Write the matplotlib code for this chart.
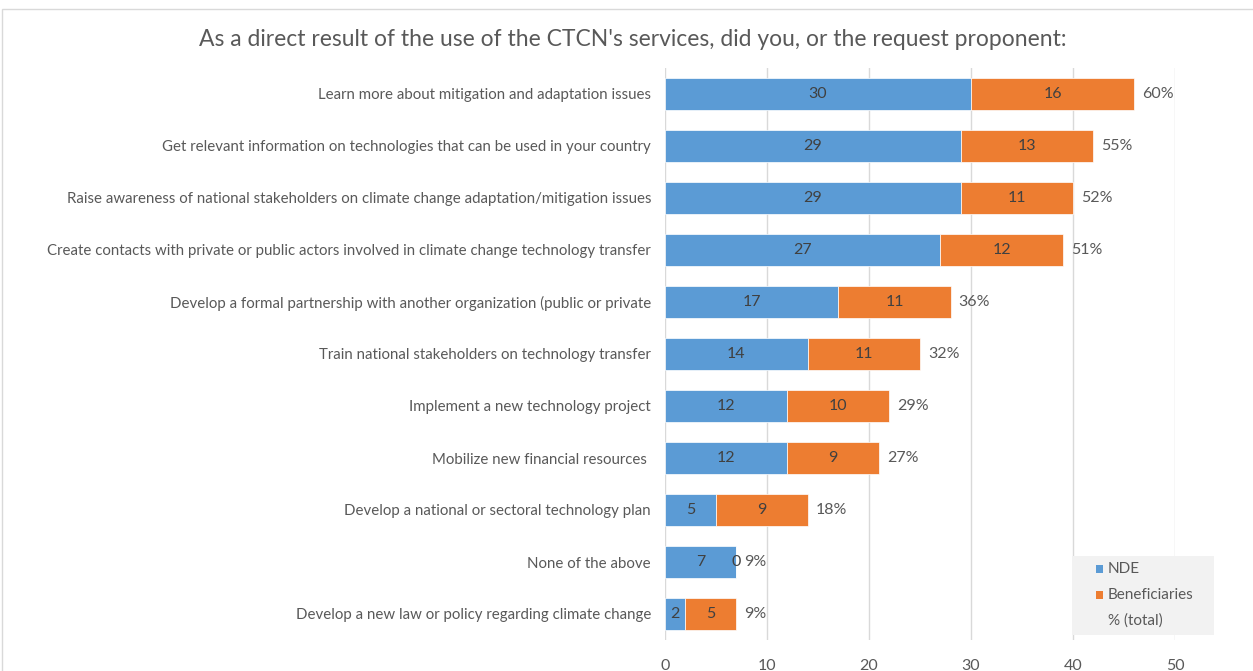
import matplotlib
matplotlib.use('Agg')
import matplotlib.pyplot as plt
from matplotlib.patches import Rectangle
import numpy as np

plt.rcParams['font.family'] = ['Lato', 'DejaVu Sans']

# data
categories = [
    'Learn more about mitigation and adaptation issues',
    'Get relevant information on technologies that can be used in your country',
    'Raise awareness of national stakeholders on climate change adaptation/mitigation issues',
    'Create contacts with private or public actors involved in climate change technology transfer',
    'Develop a formal partnership with another organization (public or private',
    'Train national stakeholders on technology transfer',
    'Implement a new technology project',
    'Mobilize new financial resources ',
    'Develop a national or sectoral technology plan',
    'None of the above',
    'Develop a new law or policy regarding climate change',
]
nde = [30, 29, 29, 27, 17, 14, 12, 12, 5, 7, 2]
beneficiaries = [16, 13, 11, 12, 11, 11, 10, 9, 9, 0, 5]
pct_total = ['60%', '55%', '52%', '51%', '36%', '32%', '29%', '27%', '18%', '9%', '9%']
legend_labels = ['NDE', 'Beneficiaries', '% (total)']

blue = '#5B9BD5'
orange = '#ED7D31'
txt = '#595959'

W, H = 1253, 671
fig = plt.figure(figsize=(W/100, H/100), dpi=100)
ax = fig.add_axes([665/W, 1-640/H, 510/W, 572/H])

y = np.arange(len(categories))
nde = np.array(nde)
ben = np.array(beneficiaries)
h = 0.63
ax.barh(y, nde, height=h, color=blue, edgecolor='white', linewidth=0.5, zorder=3)
ax.barh(y, ben, left=nde, height=h, color=orange, edgecolor='white', linewidth=0.5, zorder=3)

for i in range(len(categories)):
    ax.text(nde[i]/2, y[i], str(nde[i]), ha='center', va='center', fontsize=11.5, color='#404040', zorder=4)
    ax.text(nde[i] + ben[i]/2, y[i], str(ben[i]), ha='center', va='center', fontsize=11.5, color='#404040', zorder=4)
    ax.text(nde[i] + ben[i] + 0.8, y[i], pct_total[i], ha='left', va='center', fontsize=11.5, color=txt, zorder=4)

ax.set_xlim(0, 50)
ax.set_ylim(len(categories) - 0.5, -0.5)
ax.set_xticks([0, 10, 20, 30, 40, 50])
ax.xaxis.grid(True, color='#D9D9D9', linewidth=1, zorder=0)
ax.set_yticks(y)
ax.set_yticklabels(categories, fontsize=10.8, color=txt)
ax.tick_params(axis='both', length=0, labelcolor=txt)
ax.tick_params(axis='x', labelsize=11.5, pad=14)
ax.tick_params(axis='y', pad=10)
for s in ax.spines.values():
    s.set_visible(False)

fig.text(0.505, 1-40/H, "As a direct result of the use of the CTCN's services, did you, or the request proponent:",
         ha='center', va='center', fontsize=16.5, color=txt)

# legend box drawn by hand (Excel style)
fig.patches.append(Rectangle((1072/W, 1-635/H), 142/W, 79/H, transform=fig.transFigure,
                             facecolor='#F2F2F2', edgecolor='none', zorder=5))
leg_colors = [blue, orange, None]
for k, (lab, c) in enumerate(zip(legend_labels, leg_colors)):
    yc = 569 + 26*k
    if c is not None:
        fig.patches.append(Rectangle((1096/W, 1-(yc+4)/H), 7/W, 8/H, transform=fig.transFigure,
                                     facecolor=c, edgecolor='none', zorder=6))
    fig.text(1108/W, 1-yc/H, lab, ha='left', va='center', fontsize=11, color=txt, zorder=7)

fig.patches.append(Rectangle((2/W, -0.1), 1.2, 1 - 9/H + 0.1, transform=fig.transFigure,
                             fill=False, edgecolor='#D9D9D9', linewidth=1))

fig.savefig('out.png', dpi=100)
